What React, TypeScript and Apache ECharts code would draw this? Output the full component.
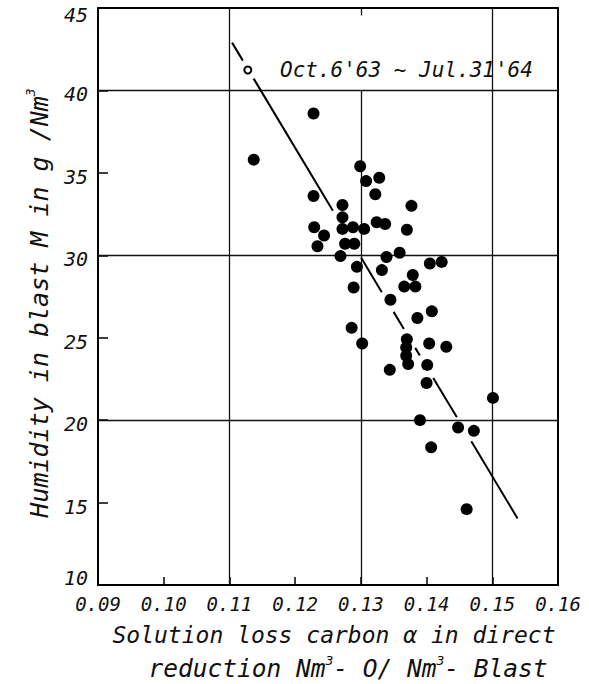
import React, { useEffect, useRef } from "react";
import * as echarts from "echarts";

// x: solution loss carbon alpha (Nm3-O / Nm3-Blast)
const alphaValues = [
  0.1228, 0.1137, 0.1228, 0.1272, 0.1299, 0.1308, 0.1328, 0.1322, 0.1272, 0.1229,
  0.1272, 0.1288, 0.1305, 0.1324, 0.1337, 0.1377, 0.137, 0.1244, 0.1234, 0.1276,
  0.129, 0.1269, 0.1294, 0.1339, 0.1359, 0.1332, 0.1379, 0.1366, 0.1383, 0.1289,
  0.1345, 0.1386, 0.1408, 0.1405, 0.1423, 0.1286, 0.1302, 0.137, 0.1369, 0.1369,
  0.1372, 0.1404, 0.143, 0.1344, 0.1401, 0.14, 0.1501, 0.139, 0.1448, 0.1472,
  0.1407, 0.1461,
];
// y: humidity in blast M (g/Nm3)
const humidityValues = [
  38.6, 35.8, 33.6, 33.05, 35.4, 34.5, 34.7, 33.7, 32.3, 31.7,
  31.6, 31.7, 31.6, 32.0, 31.9, 33.0, 31.55, 31.2, 30.55, 30.7,
  30.7, 29.95, 29.3, 29.9, 30.15, 29.1, 28.8, 28.1, 28.1, 28.05,
  27.3, 26.2, 26.6, 29.5, 29.6, 25.6, 24.65, 24.9, 24.4, 23.9,
  23.4, 24.65, 24.45, 23.05, 23.35, 22.25, 21.35, 20.0, 19.55, 19.35,
  18.35, 14.6,
];
// open circle point
const openPointAlpha = [0.1128];
const openPointHumidity = [41.24];
// fitted line end points
const fitLineAlpha = [0.1104, 0.1539];
const fitLineHumidity = [42.9, 14.0];

const xTickLabels = ["0.09", "0.10", "0.11", "0.12", "0.13", "0.14", "0.15", "0.16"];
const yTickLabels = ["10", "15", "20", "25", "30", "35", "40", "45"];
const xMin = 0.09, xMax = 0.16, xStep = 0.01;
const yMin = 10, yMax = 45, yStep = 5;
// grid lines: [x, yFrom, yTo]
const verticalGridSegments = [
  [0.11, 10, 45],
  [0.13, 10, 40],
  [0.13, 44.55, 45],
  [0.15, 10, 45],
];
const horizontalGridValues = [40, 30, 20];

const FONT = "'DejaVu Sans Mono', 'Liberation Mono', monospace";
const INK = "#111";

export default function App() {
  const ref = useRef<HTMLDivElement>(null);
  useEffect(() => {
    if (!ref.current) return;
    const chart = echarts.init(ref.current, undefined, { renderer: "svg" });
    const dots = alphaValues.map((a, i) => [a, humidityValues[i]]);
    const openPts = openPointAlpha.map((a, i) => [a, openPointHumidity[i]]);
    const fit = fitLineAlpha.map((a, i) => [a, fitLineHumidity[i]]);
    const gridLineData: any[] = [
      ...verticalGridSegments.map((s) => [
        { coord: [s[0], s[1]] },
        { coord: [s[0], s[2]] },
      ]),
      ...horizontalGridValues.map((v) => ({ yAxis: v })),
    ];
    const sup = (lh: number) => ({
      fontSize: 13,
      fontFamily: FONT,
      fontStyle: "italic",
      fill: INK,
      color: INK,
      verticalAlign: "top",
      lineHeight: lh,
    });
    const main = (fs: number, lh: number) => ({
      fontSize: fs,
      fontFamily: FONT,
      fontStyle: "italic",
      fill: INK,
      color: INK,
      lineHeight: lh,
    });
    const yLab = (padding: number[]) => ({
      fontSize: 20,
      fontFamily: FONT,
      fontStyle: "italic",
      color: INK,
      lineHeight: 20,
      padding,
    });
    chart.setOption({
      animation: false,
      backgroundColor: "#fff",
      grid: {
        left: 98,
        right: 31,
        top: 8,
        bottom: 99,
        containLabel: false,
        outerBoundsMode: "none",
        show: true,
        borderColor: "#000",
        borderWidth: 2,
        backgroundColor: "transparent",
      },
      xAxis: {
        type: "value",
        min: xMin,
        max: xMax,
        interval: xStep,
        axisLine: { show: true, lineStyle: { color: "#000", width: 2 } },
        axisTick: { show: true, inside: true, length: 8, lineStyle: { color: "#000", width: 1.5 } },
        splitLine: { show: false },
        axisLabel: {
          margin: 9,
          fontSize: 19,
          fontStyle: "italic",
          fontFamily: FONT,
          color: INK,
          formatter: (v: number) => xTickLabels[Math.round((v - xMin) / xStep)] ?? "",
        },
      },
      yAxis: {
        type: "value",
        min: yMin,
        max: yMax,
        interval: yStep,
        axisLine: { show: true, lineStyle: { color: "#000", width: 2 } },
        axisTick: { show: true, inside: true, length: 10, lineStyle: { color: "#000", width: 1.5 } },
        splitLine: { show: false },
        axisLabel: {
          margin: 10,
          fontSize: 20,
          fontStyle: "italic",
          fontFamily: FONT,
          color: INK,
          verticalAlign: "middle",
          formatter: (v: number) => {
            const idx = Math.round((v - yMin) / yStep);
            const t = yTickLabels[idx] ?? "";
            if (idx === 0) return `{lo|${t}}`;
            if (idx === yTickLabels.length - 1) return `{hi|${t}}`;
            return `{r|${t}}`;
          },
          rich: {
            r: yLab([8, 0, 0, 0]),
            hi: yLab([14, 0, 0, 0]),
            lo: yLab([0, 0, 14, 0]),
          },
        },
      },
      series: [
        {
          type: "scatter",
          data: dots,
          symbol: "circle",
          symbolSize: 12,
          itemStyle: { color: "#000", opacity: 1 },
          z: 3,
          markLine: {
            silent: true,
            symbol: "none",
            label: { show: false },
            lineStyle: { color: INK, width: 1.3, type: "solid", opacity: 1 },
            data: gridLineData,
            z: 1,
          },
        },
        {
          type: "scatter",
          data: openPts,
          symbol: "circle",
          symbolSize: 7,
          itemStyle: { color: "#fff", borderColor: "#000", borderWidth: 2, opacity: 1 },
          z: 4,
        },
        {
          type: "line",
          data: fit,
          symbol: "none",
          lineStyle: {
            color: "#000",
            width: 2,
            cap: "butt",
            type: [21, 21, 154, 55, 40, 23, 20, 22, 9, 26, 46, 28, 90, 40],
          },
          z: 2,
        },
      ],
      graphic: [
        {
          type: "text",
          x: 280,
          y: 70,
          style: {
            text: "Oct.6'63 ~ Jul.31'64",
            fontSize: 21,
            fontFamily: FONT,
            fontStyle: "italic",
            fill: INK,
            align: "left",
            textAlign: "left",
            verticalAlign: "middle",
            textVerticalAlign: "middle",
          },
        },
        {
          type: "text",
          x: 39,
          y: 303,
          rotation: Math.PI / 2,
          style: {
            text: "{m|Humidity in blast M in g /Nm}{sup|3}",
            align: "center",
            textAlign: "center",
            verticalAlign: "middle",
            textVerticalAlign: "middle",
            rich: { m: main(25, 30), sup: sup(30) },
          },
        },
        {
          type: "text",
          x: 334,
          y: 635,
          style: {
            text: "Solution loss carbon α in direct",
            fontSize: 23,
            fontFamily: FONT,
            fontStyle: "italic",
            fill: INK,
            align: "center",
            textAlign: "center",
            verticalAlign: "middle",
            textVerticalAlign: "middle",
          },
        },
        {
          type: "text",
          x: 348,
          y: 668,
          style: {
            text: "{m|reduction Nm}{sup|3}{m|- O/ Nm}{sup|3}{m|- Blast}",
            align: "center",
            textAlign: "center",
            verticalAlign: "middle",
            textVerticalAlign: "middle",
            rich: { m: main(24.5, 28), sup: sup(28) },
          },
        },
      ],
    });
    return () => chart.dispose();
  }, []);
  return (
    <div
      ref={ref}
      style={{ position: "fixed", left: 0, top: 0, width: 589, height: 684, background: "#fff" }}
    />
  );
}
